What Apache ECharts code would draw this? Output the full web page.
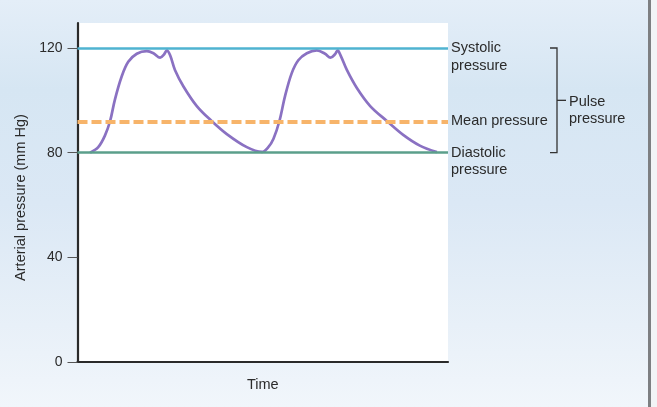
<!DOCTYPE html>
<html><head><meta charset="utf-8">
<script src="https://cdn.jsdelivr.net/npm/echarts@6/dist/echarts.min.js"></script>
<style>
html,body{margin:0;padding:0;}
#wrap{position:relative;width:657px;height:407px;overflow:hidden;
 background:linear-gradient(to bottom,#e4eef8 0%,#d6e6f3 22%,#dbe8f5 50%,#e8f0f8 80%,#f1f6fb 100%);}
#chart{position:absolute;left:0;top:0;width:657px;height:407px;}
#edge{position:absolute;left:648px;top:0;width:2.5px;height:407px;background:#7d7f82;}
#rest{position:absolute;left:650.5px;top:0;width:7px;height:407px;background:#f2f4f6;}
</style></head>
<body><div id="wrap"><div id="chart"></div><div id="edge"></div><div id="rest"></div></div>
<script>
// ---- data ----
const timeValues = [3.4,5.6,7.4,8.8,10.1,11.9,13.7,16.0,18.7,20.5,22.3,23.4,24.1,25.0,26.3,28.6,32.2,36.2,40.3,45.7,49.8,
                    51.5,52.9,54.5,56.0,57.8,59.6,61.9,64.6,66.8,68.3,69.5,70.2,71.0,72.7,75.4,79.0,83.5,87.9,92.4,97.0];
const pressureValues = [80.0,82.1,86.5,92.1,100.3,109.0,114.7,117.8,118.8,118.0,116.3,117.6,119.1,117.2,111.6,105.3,97.8,92.1,87.1,82.1,80.3,
                        82.1,85.3,92.1,101.5,110.3,115.3,118.0,119.1,117.8,116.3,117.6,119.1,117.2,111.6,104.7,97.8,92.1,86.8,82.7,80.2];
const systolic = 120;
const meanPressure = 92;
const diastolic = 80;
const yTicks = [0, 40, 80, 120];
const yAxisName = 'Arterial pressure (mm Hg)';
const xAxisName = 'Time';
const lineLabels = {systolic:'Systolic\npressure', mean:'Mean pressure', diastolic:'Diastolic\npressure'};
const pulseLabel = 'Pulse\npressure';

const curve = timeValues.map((t,i)=>[t, pressureValues[i]]);
const FONT = '"Liberation Sans", Arial, Helvetica, sans-serif';
const FS = 14.5;
const chart = echarts.init(document.getElementById('chart'), null, {renderer:'canvas'});

function mk(val, label, color, width, type, lh){
  // for two-line labels, prepend an empty line so the first text line sits on the line
  const txt = label.indexOf('\n')>=0 ? ' \n' + label : label;
  return {
    yAxis: val,
    lineStyle:{color:color,width:width,type:type},
    label:{show:true,position:'end',distance:3,formatter:txt,color:'#2b2b2b',fontSize:FS,fontFamily:FONT,
      lineHeight:lh}
  };
}

chart.setOption({
  animation:false,
  backgroundColor:'transparent',
  grid:{left:77.5,right:209,top:23,bottom:45,show:true,backgroundColor:'#ffffff',borderWidth:0},
  xAxis:{type:'value',min:0,max:100,
    name:xAxisName,nameLocation:'middle',nameGap:15,
    nameTextStyle:{color:'#2b2b2b',fontSize:FS,fontFamily:FONT,verticalAlign:'top'},
    axisLine:{show:true,lineStyle:{color:'#2a2a2a',width:2.2}},
    axisTick:{show:false},axisLabel:{show:false},splitLine:{show:false}},
  yAxis:{type:'value',min:0,max:129.55,
    name:yAxisName,nameLocation:'middle',nameGap:46,nameRotate:90,
    nameTextStyle:{color:'#2b2b2b',fontSize:FS,fontFamily:FONT,padding:[0,10,0,0]},
    axisLine:{show:true,lineStyle:{color:'#2a2a2a',width:2.2}},
    axisTick:{show:true,customValues:yTicks,length:10,lineStyle:{color:'#555',width:1}},
    axisLabel:{show:true,customValues:yTicks,margin:15,color:'#2b2b2b',fontSize:14,fontFamily:FONT},
    splitLine:{show:false}},
  series:[
    {type:'line',data:[],z:1,silent:true,
      markLine:{silent:true,symbol:['none','none'],
        data:[
          mk(systolic,lineLabels.systolic,'#4fb3d1',2.6,'solid',18),
          mk(diastolic,lineLabels.diastolic,'#5b9f8b',2.6,'solid',17.5),
          mk(meanPressure,lineLabels.mean,'#f7b46a',3.8,[10,4],16)
        ]}},
    {type:'line',data:curve,z:3,smooth:0.35,showSymbol:false,silent:true,
      lineStyle:{color:'#8a71c2',width:2.7}}
  ]
});

// bracket for pulse pressure, positioned through the y scale
const ySys = chart.convertToPixel({yAxisIndex:0}, systolic);
const yDia = chart.convertToPixel({yAxisIndex:0}, diastolic);
const yMid = (ySys + yDia) / 2;
const bx = 557, bl = 550, tickR = 566;
const bs = {stroke:'#333',lineWidth:1.3};
chart.setOption({graphic:[
  {type:'polyline',shape:{points:[[bl,ySys],[bx,ySys],[bx,yDia],[bl,yDia]]},style:Object.assign({fill:null},bs),silent:true},
  {type:'line',shape:{x1:bx,y1:yMid,x2:tickR,y2:yMid},style:bs,silent:true},
  {type:'text',x:569,y:yMid-7,style:{text:pulseLabel,fill:'#2b2b2b',font:FS+'px '+FONT,lineHeight:17,textVerticalAlign:'top'},silent:true}
]});
</script></body></html>
